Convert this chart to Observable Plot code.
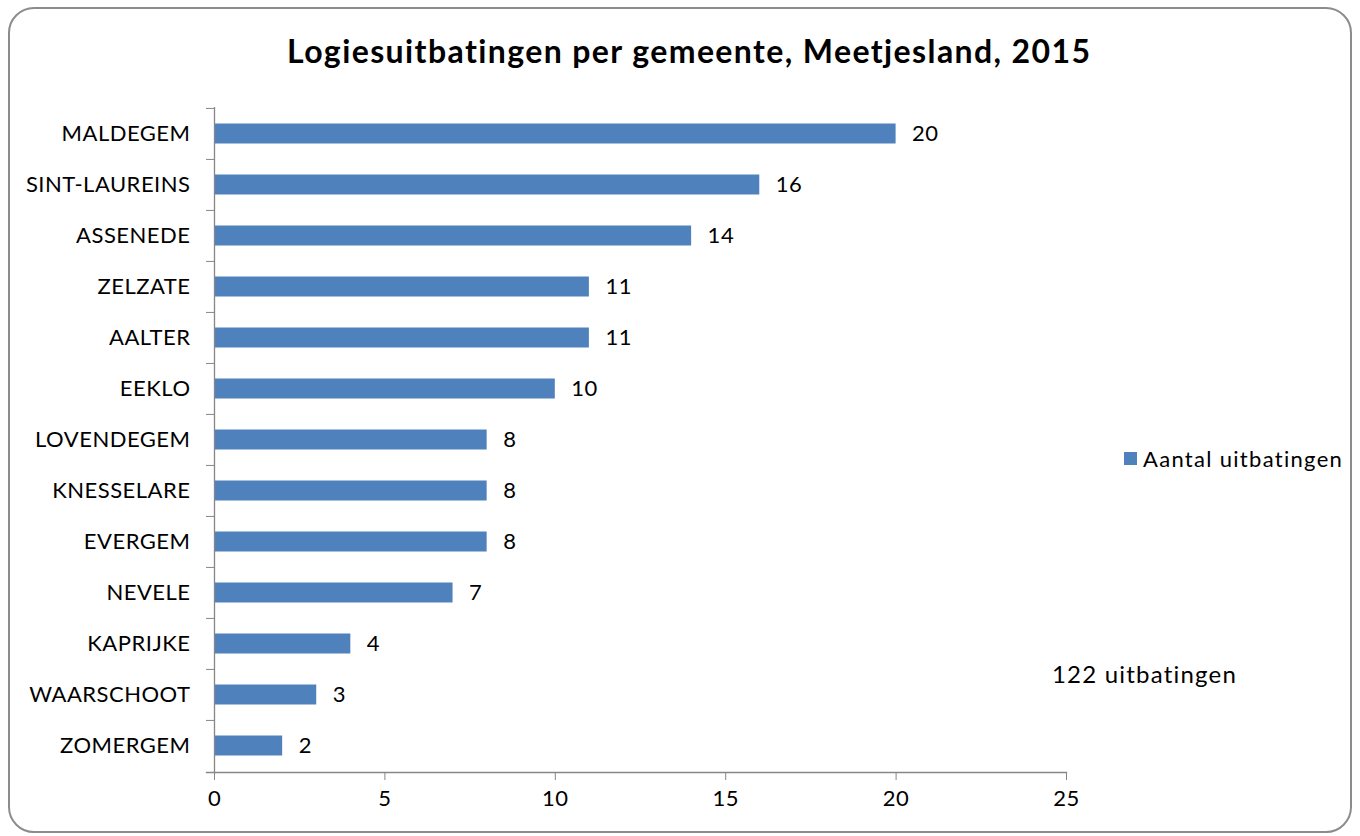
<!DOCTYPE html>
<html>
<head>
<meta charset="utf-8">
<script src="https://cdn.jsdelivr.net/npm/d3@7"></script>
<script src="https://cdn.jsdelivr.net/npm/@observablehq/plot@0.6"></script>
<style>
  html, body { margin: 0; padding: 0; background: #fff; }
  body { width: 1360px; height: 836px; position: relative; overflow: hidden; font-family: Lato, "Open Sans", sans-serif; color: #000; }
  #frame { position: absolute; left: 8px; top: 7px; width: 1344px; height: 826px; border: 2px solid #8c8c8c; border-radius: 26px; box-sizing: border-box; }
  #chart { position: absolute; left: 0; top: 0; }
  #title { position: absolute; left: 287px; top: 31px; font-weight: bold; font-size: 32px; letter-spacing: 1.4px; white-space: nowrap; }
  #legend { position: absolute; left: 1124px; top: 445px; font-size: 22px; letter-spacing: 1.3px; display: flex; align-items: center; white-space: nowrap; }
  #legend .sw { width: 13px; height: 13px; background: #4F81BD; margin-right: 6px; }
  #note { position: absolute; left: 1052px; top: 659px; font-size: 24px; letter-spacing: 1.2px; white-space: nowrap; }
</style>
</head>
<body>
<div id="frame"></div>
<div id="chart"></div>
<div id="title">Logiesuitbatingen per gemeente, Meetjesland, 2015</div>
<div id="legend"><span class="sw"></span><span id="legendText"></span></div>
<div id="note"></div>
<script>
const categories = ["MALDEGEM","SINT-LAUREINS","ASSENEDE","ZELZATE","AALTER","EEKLO","LOVENDEGEM","KNESSELARE","EVERGEM","NEVELE","KAPRIJKE","WAARSCHOOT","ZOMERGEM"];
const values = [20,16,14,11,11,10,8,8,8,7,4,3,2];
const xTicks = [0,5,10,15,20,25];
const seriesName = "Aantal uitbatingen";
const noteText = "122 uitbatingen";

document.getElementById("legendText").textContent = seriesName;
document.getElementById("note").textContent = noteText;

const data = categories.map((name, i) => ({name, value: values[i]}));

const W = 1360, H = 836;
const mL = 214, mR = 294, mT = 107, mB = 64;
const step = (H - mT - mB) / categories.length;
const axisColor = "#868686";

const chart = Plot.plot({
  width: W,
  height: H,
  marginLeft: mL,
  marginRight: mR,
  marginTop: mT,
  marginBottom: mB,
  style: {fontFamily: "Lato, 'Open Sans', sans-serif", fontSize: "22px", color: "#000", background: "transparent", letterSpacing: "0.5px"},
  x: {domain: [0, 25], label: null},
  y: {domain: categories, padding: 0, label: null},
  marks: [
    Plot.barX(data, {x: "value", y: "name", fill: "#4F81BD", insetTop: 15.5, insetBottom: 15.5}),
    Plot.text(data, {x: "value", y: "name", text: d => String(d.value), dx: 16, textAnchor: "start", fontSize: 22, fill: "#000"}),
    Plot.ruleX([0], {stroke: axisColor, strokeWidth: 1.3}),
    Plot.frame({anchor: "bottom", stroke: axisColor, strokeWidth: 1.3, insetLeft: -8}),
    Plot.axisX({ticks: xTicks, tickSize: 8, tickPadding: 10, stroke: axisColor, fontSize: 22, fill: "#000"}),
    Plot.axisY({tickSize: 0, tickPadding: 24, fontSize: 22, fill: "#000"}),
    Plot.axisY({tickSize: 8, text: null, stroke: axisColor, dy: -step / 2})
  ]
});
document.getElementById("chart").appendChild(chart);
</script>
</body>
</html>
